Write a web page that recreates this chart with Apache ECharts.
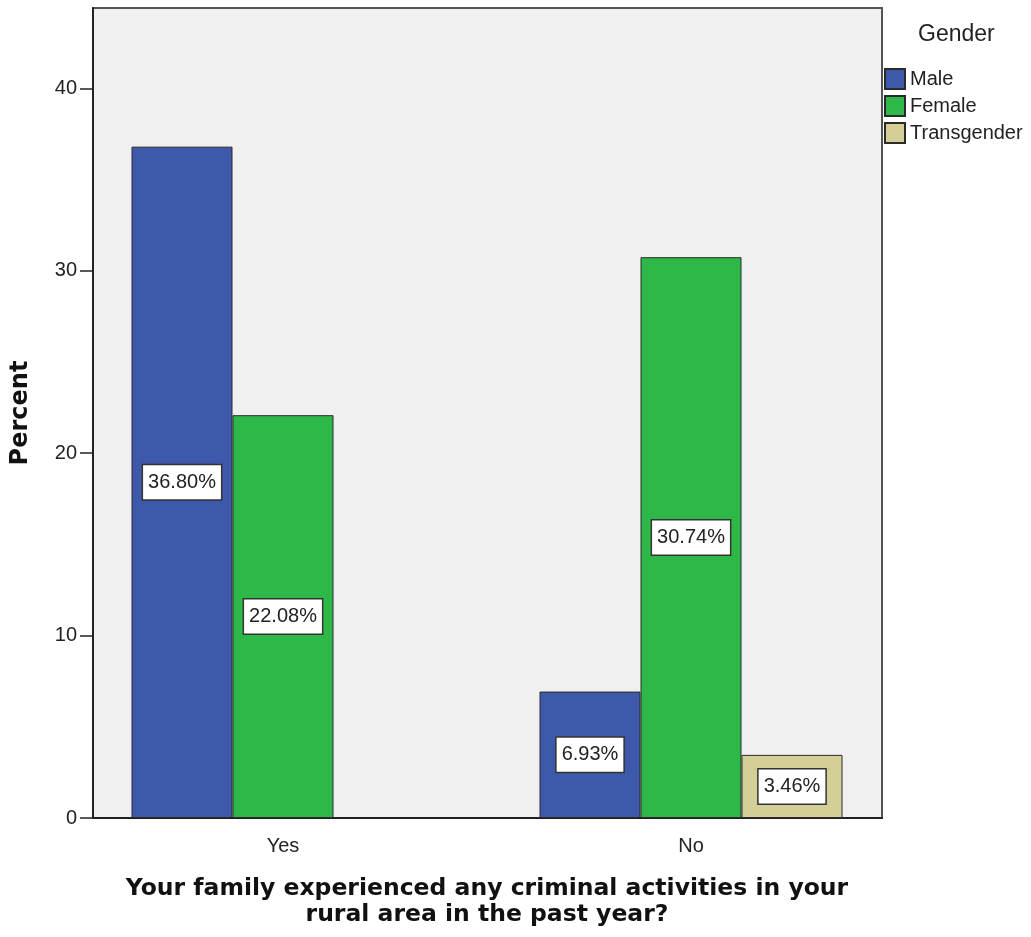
<!DOCTYPE html>
<html>
<head>
<meta charset="utf-8">
<script src="https://cdn.jsdelivr.net/npm/echarts@6/dist/echarts.min.js"></script>
<style>
  html, body { margin: 0; padding: 0; background: #fff; }
  #main { width: 1031px; height: 937px; }
</style>
</head>
<body>
<div id="main"></div>
<script>
// 数据
var categories = ['Yes', 'No'];
var male = [36.80, 6.93];
var female = [22.08, 30.74];
var transgender = [null, 3.46];
var yTicks = [0, 10, 20, 30, 40];

var chart = echarts.init(document.getElementById('main'));

var barLabel = {
    show: true,
    position: 'inside',
    formatter: function (p) { return p.value.toFixed(2) + '%'; },
    backgroundColor: '#fff',
    borderColor: '#333',
    borderWidth: 1.5,
    padding: [7, 5, 5, 5],
    color: '#222',
    fontSize: 20,
    lineHeight: 22
};

function makeSeries(name, data, color) {
    return {
        name: name,
        type: 'bar',
        data: data,
        xAxisIndex: 1,
        yAxisIndex: 1,
        barWidth: 101,
        barGap: '0%',
        itemStyle: { color: color, borderColor: '#2a2a2a', borderWidth: 1 },
        label: barLabel
    };
}

var option = {
    backgroundColor: '#fff',
    animation: false,
    textStyle: { fontFamily: 'Liberation Sans, Arial, sans-serif' },
    title: {
        text: 'Gender',
        left: 913,
        top: 18,
        textStyle: { fontSize: 23, fontWeight: 'normal', color: '#222' }
    },
    legend: {
        orient: 'vertical',
        left: 879,
        top: 63,
        itemWidth: 20,
        itemHeight: 20,
        itemGap: 5,
        icon: 'rect',
        textStyle: { fontSize: 20, color: '#222', lineHeight: 20 },
        data: ['Male', 'Female', 'Transgender']
    },
    // grid 0: 绘图区背景和y轴; grid 1: 柱子和x轴刻度
    grid: [{
        left: 93,
        right: 149,
        top: 8,
        bottom: 119,
        show: true,
        backgroundColor: '#F0F0F0',
        borderColor: '#555',
        borderWidth: 2
    }, {
        left: 79,
        right: 136,
        top: 8,
        bottom: 119
    }],
    xAxis: [{
        type: 'category',
        gridIndex: 0,
        data: categories,
        axisLine: { lineStyle: { color: '#222', width: 2 } },
        axisTick: { show: false },
        axisLabel: { show: false }
    }, {
        type: 'category',
        gridIndex: 1,
        data: categories,
        name: 'Your family experienced any criminal activities in your\nrural area in the past year?',
        nameLocation: 'middle',
        nameGap: 58,
        nameTextStyle: {
            fontSize: 23.5, fontWeight: 'bold', color: '#111', lineHeight: 26,
            fontFamily: 'DejaVu Sans, sans-serif'
        },
        axisLine: { show: false },
        axisTick: { alignWithLabel: true, length: 12, lineStyle: { color: '#222', width: 1.5 } },
        axisLabel: { fontSize: 20, color: '#222', margin: 18 }
    }],
    yAxis: [{
        type: 'value',
        gridIndex: 0,
        min: 0,
        max: 44.4,
        interval: 10,
        name: 'Percent',
        nameLocation: 'middle',
        nameGap: 60,
        nameTextStyle: {
            fontSize: 24, fontWeight: 'bold', color: '#111',
            fontFamily: 'DejaVu Sans, sans-serif'
        },
        splitLine: { show: false },
        axisLine: { show: true, lineStyle: { color: '#222', width: 2 } },
        axisTick: {
            show: true,
            length: 13,
            lineStyle: { color: '#222', width: 1.5 },
            interval: function (i, v) { return yTicks.indexOf(v) >= 0; }
        },
        axisLabel: {
            fontSize: 20,
            color: '#222',
            margin: 16,
            showMaxLabel: false,
            formatter: function (v) { return yTicks.indexOf(v) >= 0 ? v : ''; }
        }
    }, {
        type: 'value',
        gridIndex: 1,
        min: 0,
        max: 44.4,
        interval: 10,
        show: false
    }],
    series: [
        makeSeries('Male', male, '#3E58AC'),
        makeSeries('Female', female, '#2EB848'),
        makeSeries('Transgender', transgender, '#D4CE97')
    ]
};

chart.setOption(option);
</script>
</body>
</html>
